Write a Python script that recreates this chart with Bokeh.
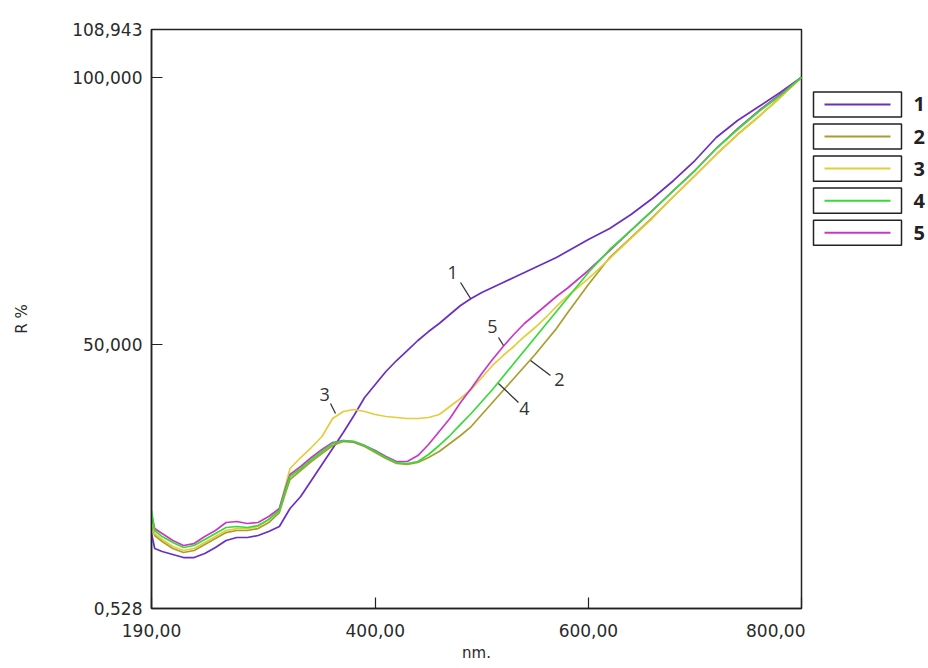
from bokeh.plotting import figure
from bokeh.models import Range1d, FixedTicker
from bokeh.layouts import row
from bokeh.embed import file_html
from bokeh.resources import INLINE
from bokeh.core.properties import value

# ---------------- data ----------------
wavelength = [190, 193, 200, 210, 220, 230, 240, 250, 260, 270, 280, 290, 300, 310, 315,
              320, 330, 340, 350, 360, 370, 380, 390, 400, 410, 420, 430, 440, 450, 460,
              470, 480, 490, 500, 510, 520, 530, 540, 550, 560, 570, 580,
              600, 620, 640, 660, 680, 700, 720, 740, 760, 780, 800]

r1 = [14.57, 11.76, 11.20, 10.64, 10.07, 10.07, 10.82, 11.95, 13.26, 13.82, 13.82, 14.19, 14.94, 15.88, 17.57,
      19.25, 21.50, 24.50, 27.49, 30.49, 33.48, 36.66, 40.03, 42.47, 44.90, 46.96, 48.83, 50.71, 52.39, 53.89,
      55.58, 57.26, 58.57, 59.70, 60.63, 61.57, 62.51, 63.44, 64.38, 65.31, 66.25, 67.37,
      69.62, 71.68, 74.30, 77.30, 80.67, 84.41, 88.72, 91.90, 94.52, 97.15, 100.0]

r2 = [16.63, 14.19, 13.07, 11.76, 11.01, 11.39, 12.51, 13.63, 14.75, 15.13, 15.13, 15.50, 16.63, 18.50, 21.68,
      24.68, 26.37, 28.05, 29.55, 31.05, 31.80, 31.61, 30.86, 29.74, 28.61, 27.68, 27.49, 27.86, 28.80, 29.92,
      31.42, 32.92, 34.60, 36.85, 39.10, 41.35, 43.59, 45.84, 48.09, 50.52, 52.94, 55.76,
      61.19, 66.25, 69.99, 73.74, 77.67, 81.60, 85.54, 89.28, 92.65, 96.21, 100.0]

r3 = [17.00, 14.57, 13.45, 12.13, 11.39, 11.76, 12.88, 14.00, 15.13, 15.50, 15.50, 15.88, 17.19, 19.25, 23.00,
      26.74, 28.80, 30.67, 32.73, 36.10, 37.41, 37.79, 37.41, 36.85, 36.48, 36.29, 36.10, 36.10, 36.29, 36.85,
      38.35, 39.85, 41.53, 43.78, 46.03, 47.90, 49.59, 51.46, 53.14, 55.02, 57.08, 58.95,
      62.31, 66.06, 69.81, 73.55, 77.67, 81.60, 85.54, 89.28, 92.65, 96.21, 100.0]

r4 = [18.88, 15.13, 14.00, 12.88, 11.95, 12.32, 13.45, 14.57, 15.69, 15.88, 15.69, 16.07, 17.19, 18.88, 22.25,
      25.24, 26.74, 28.42, 29.92, 31.42, 31.98, 31.79, 31.05, 29.92, 28.80, 27.86, 27.68, 28.05, 29.36, 31.05,
      32.92, 35.02, 37.04, 39.29, 41.53, 43.97, 46.40, 48.84, 51.27, 53.70, 56.14, 58.57,
      63.44, 67.75, 71.31, 75.05, 78.80, 82.54, 86.66, 90.22, 93.59, 96.58, 100.0]

r5 = [17.94, 15.50, 14.57, 13.26, 12.32, 12.69, 14.00, 15.13, 16.63, 16.82, 16.44, 16.63, 17.75, 19.25, 22.62,
      25.62, 27.12, 28.80, 30.30, 31.61, 31.98, 31.79, 31.05, 30.11, 28.99, 28.05, 28.05, 29.17, 31.23, 33.67,
      36.10, 39.10, 41.72, 44.53, 47.15, 49.58, 51.83, 53.89, 55.58, 57.26, 58.95, 60.45,
      63.82, 67.56, 71.31, 75.05, 78.80, 82.54, 86.66, 90.40, 93.77, 96.77, 100.0]

series_names = ["1", "2", "3", "4", "5"]
series_values = [r1, r2, r3, r4, r5]
colors = ["#6A2EC0", "#A89E30", "#E6CC3C", "#36DC36", "#C838C8"]

x_ticks = [190, 400, 600, 800]
x_tick_labels = ["190,00", "400,00", "600,00", "800,00"]
y_ticks = [0.528, 50, 100, 108.943]
y_tick_labels = ["0,528", "50,000", "100,000", "108,943"]

# curve call-outs (number + leader line), in data units
callout_text = ["1", "5", "2", "4", "3"]
callout_x = [472.5, 510.0, 572.9, 540.0, 352.4]
callout_y = [63.44, 53.33, 43.41, 37.97, 40.6]
leader_x0 = [480.0, 515.6, 564.4, 534.4, 358.0]
leader_y0 = [61.57, 51.27, 44.15, 39.10, 38.91]
leader_x1 = [489.4, 520.3, 545.7, 515.6, 362.7]
leader_y1 = [58.57, 49.77, 46.96, 42.66, 37.04]

# ---------------- main plot ----------------
p = figure(width=805, height=668,
           x_range=Range1d(190, 800), y_range=Range1d(0.528, 108.943),
           output_backend="svg", toolbar_location=None,
           min_border_left=151, min_border_top=29, min_border_bottom=60, min_border_right=4,
           x_axis_label="nm.", y_axis_label="R %")
p.grid.visible = False
p.background_fill_color = "white"
p.border_fill_color = "white"
p.outline_line_color = "#222222"
p.outline_line_width = 1.5
p.outline_line_alpha = 1.0

p.xaxis.ticker = FixedTicker(ticks=x_ticks)
p.xaxis.major_label_overrides = {t: l for t, l in zip(x_ticks, x_tick_labels)}
p.yaxis.ticker = FixedTicker(ticks=y_ticks)
p.yaxis.major_label_overrides = {t: l for t, l in zip(y_ticks, y_tick_labels)}

for ax in (p.xaxis, p.yaxis):
    ax.axis_line_color = "#222222"
    ax.axis_line_width = 1.5
    ax.major_tick_line_color = "#222222"
    ax.major_tick_line_width = 1.2
    ax.major_tick_in = 11
    ax.major_tick_out = 0
    ax.minor_tick_line_color = None
    ax.major_label_text_font = "DejaVu Sans"
    ax.major_label_text_font_size = "17px"
    ax.major_label_text_color = "#2a2a2a"
    ax.axis_label_text_font = "DejaVu Sans"
    ax.axis_label_text_font_style = "normal"
    ax.axis_label_text_color = "#2a2a2a"

p.xaxis.major_label_standoff = 15
p.xaxis.axis_label_standoff = 4
p.xaxis.axis_label_text_font_size = "15px"
p.yaxis.major_label_standoff = 9
p.yaxis.axis_label_standoff = 38
p.yaxis.axis_label_text_font_size = "15px"

draw_order = [0, 1, 2, 4, 3]
for i in draw_order:
    p.line(wavelength, series_values[i], line_color=colors[i], line_width=1.7)

p.segment(x0=leader_x0, y0=leader_y0, x1=leader_x1, y1=leader_y1,
          line_color="#333333", line_width=1.3)
p.text(x=callout_x, y=callout_y, text=callout_text,
       text_font=value("Open Sans"), text_font_size="18px", text_color="#333333",
       text_align="center", text_baseline="middle")

# ---------------- legend (separate panel) ----------------
leg_w, leg_h = 123, 668
leg = figure(width=leg_w, height=leg_h, x_range=Range1d(0, leg_w), y_range=Range1d(leg_h, 0),
             output_backend="svg", toolbar_location=None, min_border=0,
             x_axis_location=None, y_axis_location=None)
leg.outline_line_color = None
leg.grid.visible = False
leg.background_fill_color = "white"
leg.border_fill_color = "white"

item_top0, item_pitch, item_h = 72, 37, 29
tops = [item_top0 + item_pitch * i for i in range(len(series_names))]
bottoms = [t + item_h for t in tops]
centers = [t + item_h / 2 for t in tops]

leg.quad(left=8, right=96, top=tops, bottom=bottoms,
         fill_color="white", line_color="#222222", line_width=1.5)
leg.segment(x0=19, x1=85, y0=centers, y1=centers, line_color=colors, line_width=2)
leg.text(x=108, y=centers, text=series_names,
         text_font=value("Open Sans"), text_font_style="bold", text_font_size="20px",
         text_color="#222222", text_align="left", text_baseline="middle")

layout = row(p, leg)
open("out.html", "w").write(file_html(layout, INLINE))
